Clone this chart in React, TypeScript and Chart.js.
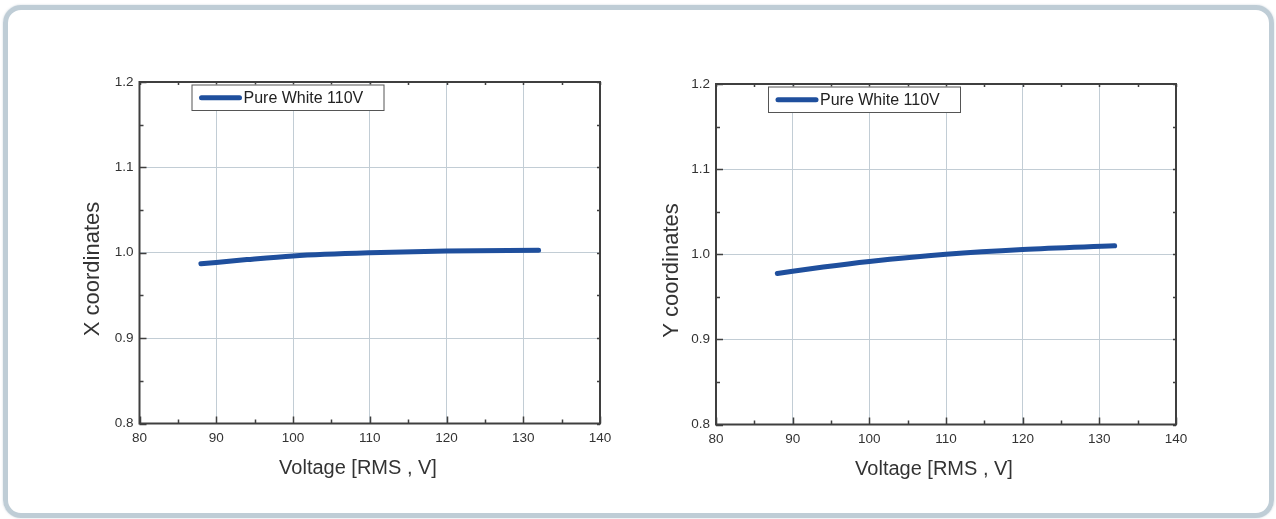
import React, { useEffect, useRef } from "react";
import { Chart, registerables } from "chart.js";

Chart.register(...registerables);

// ---- Data ----
const voltages = [88, 94, 100, 110, 120, 132];
const xCoordinateValues = [0.987, 0.992, 0.9963, 1.0, 1.002, 1.003];
const yCoordinateValues = [0.9775, 0.985, 0.9915, 1.0, 1.0057, 1.01];
const seriesLabel = "Pure White 110V";
const xAxisTitle = "Voltage [RMS , V]";
const leftYAxisTitle = "X coordinates";
const rightYAxisTitle = "Y coordinates";
const xMin = 80;
const xMax = 140;
const xMajorStep = 10;
const xMinorStep = 5;
const yMin = 0.8;
const yMax = 1.2;
const yMajorStep = 0.1;
const yMinorStep = 0.05;

const FONT = 'Arial, "Liberation Sans", Helvetica, sans-serif';
const LINE_COLOR = "#1f4f9d";
const GRID_COLOR = "#c2cdd5";
const FRAME_COLOR = "#3f3f3f";
const TEXT_COLOR = "#333333";

type Panel = {
  values: number[];
  yTitle: string;
  canvasLeft: number;
  areaLeft: number;
  areaRight: number;
  areaTop: number;
  areaBottom: number;
  yTitleX: number;
  yTitleY: number;
  xTitleX: number;
  xTitleY: number;
};

const CANVAS_W = 638;
const CANVAS_H = 519;

const panels: Panel[] = [
  {
    values: xCoordinateValues,
    yTitle: leftYAxisTitle,
    canvasLeft: 0,
    areaLeft: 139.5,
    areaRight: 600,
    areaTop: 82,
    areaBottom: 423.5,
    yTitleX: 93,
    yTitleY: 269,
    xTitleX: 358,
    xTitleY: 468,
  },
  {
    values: yCoordinateValues,
    yTitle: rightYAxisTitle,
    canvasLeft: 638,
    areaLeft: 716,
    areaRight: 1176,
    areaTop: 84,
    areaBottom: 424.5,
    yTitleX: 672,
    yTitleY: 270.5,
    xTitleX: 934,
    xTitleY: 469,
  },
];

function makeDecorPlugin(p: Panel) {
  return {
    id: "decor",
    afterDraw(chart: any) {
      const { ctx, chartArea: a, scales } = chart;
      const xs = scales.x;
      const ys = scales.y;
      ctx.save();
      ctx.strokeStyle = FRAME_COLOR;
      ctx.lineWidth = 1.5;
      ctx.lineCap = "butt";
      // x ticks (inward)
      const nX = Math.round((xMax - xMin) / xMinorStep);
      for (let i = 0; i <= nX; i++) {
        const v = xMin + i * xMinorStep;
        const px = Math.round(xs.getPixelForValue(v)) + 0.5;
        const major = i % Math.round(xMajorStep / xMinorStep) === 0;
        const len = major ? 7 : 4;
        ctx.beginPath();
        ctx.moveTo(px, a.bottom);
        ctx.lineTo(px, a.bottom - len);
        ctx.moveTo(px, a.top);
        ctx.lineTo(px, a.top + 3);
        ctx.stroke();
      }
      const nY = Math.round((yMax - yMin) / yMinorStep);
      for (let i = 0; i <= nY; i++) {
        const v = yMin + i * yMinorStep;
        const py = Math.round(ys.getPixelForValue(v)) + 0.5;
        const major = i % Math.round(yMajorStep / yMinorStep) === 0;
        const len = major ? 7 : 4;
        ctx.beginPath();
        ctx.moveTo(a.left, py);
        ctx.lineTo(a.left + len, py);
        ctx.moveTo(a.right, py);
        ctx.lineTo(a.right - 3, py);
        ctx.stroke();
      }
      // frame
      ctx.lineWidth = 2;
      ctx.strokeRect(a.left, a.top, a.right - a.left, a.bottom - a.top);

      // legend box
      const bx = a.left + 52;
      const by = a.top + 2.5;
      const bw = 193;
      const bh = 26.5;
      ctx.fillStyle = "#ffffff";
      ctx.fillRect(bx, by, bw, bh);
      ctx.lineWidth = 1;
      ctx.strokeStyle = "#555555";
      ctx.strokeRect(bx + 0.5, by + 0.5, bw - 1, bh - 1);
      const ly = by + bh / 2;
      ctx.strokeStyle = LINE_COLOR;
      ctx.lineWidth = 5;
      ctx.lineCap = "round";
      ctx.beginPath();
      ctx.moveTo(bx + 10, ly);
      ctx.lineTo(bx + 48, ly);
      ctx.stroke();
      ctx.fillStyle = "#222222";
      ctx.font = `16px ${FONT}`;
      ctx.textAlign = "left";
      ctx.textBaseline = "middle";
      ctx.fillText(seriesLabel, bx + 52, ly + 1);

      // axis titles
      const off = p.canvasLeft;
      ctx.fillStyle = TEXT_COLOR;
      ctx.font = `20px ${FONT}`;
      ctx.textAlign = "center";
      ctx.textBaseline = "middle";
      ctx.fillText(xAxisTitle, p.xTitleX - off, p.xTitleY);
      ctx.save();
      ctx.translate(p.yTitleX - off, p.yTitleY);
      ctx.rotate(-Math.PI / 2);
      ctx.font = `22px ${FONT}`;
      ctx.fillText(p.yTitle, 0, 0);
      ctx.restore();
      ctx.restore();
    },
  };
}

function ChartPanel({ p }: { p: Panel }) {
  const ref = useRef<HTMLCanvasElement | null>(null);
  useEffect(() => {
    if (!ref.current) return;
    const yAxisWidth = p.areaLeft - p.canvasLeft;
    const rightPad = p.canvasLeft + CANVAS_W - p.areaRight;
    const xAxisHeight = CANVAS_H - p.areaBottom;
    const chart = new Chart(ref.current, {
      type: "line",
      data: {
        datasets: [
          {
            label: seriesLabel,
            data: voltages.map((v, i) => ({ x: v, y: p.values[i] })),
            borderColor: LINE_COLOR,
            borderWidth: 5,
            borderCapStyle: "round",
            borderJoinStyle: "round",
            pointRadius: 0,
            cubicInterpolationMode: "monotone",
            fill: false,
          },
        ],
      },
      options: {
        animation: false,
        responsive: false,
        maintainAspectRatio: false,
        layout: { padding: { left: 0, right: rightPad, top: p.areaTop, bottom: 0 } },
        plugins: { legend: { display: false }, tooltip: { enabled: false }, title: { display: false } },
        scales: {
          x: {
            type: "linear",
            min: xMin,
            max: xMax,
            ticks: {
              stepSize: xMajorStep,
              padding: 7,
              color: TEXT_COLOR,
              font: { family: FONT, size: 13.5 },
              maxRotation: 0,
              autoSkip: false,
            },
            grid: { color: GRID_COLOR, lineWidth: 1, drawTicks: false },
            border: { display: false },
            afterFit: (s: any) => {
              s.height = xAxisHeight;
            },
          },
          y: {
            type: "linear",
            min: yMin,
            max: yMax,
            ticks: {
              stepSize: yMajorStep,
              padding: 6,
              color: TEXT_COLOR,
              font: { family: FONT, size: 13.5 },
              callback: (v: any) => Number(v).toFixed(1),
            },
            grid: { color: GRID_COLOR, lineWidth: 1, drawTicks: false },
            border: { display: false },
            afterFit: (s: any) => {
              s.width = yAxisWidth;
            },
          },
        },
      } as any,
      plugins: [makeDecorPlugin(p)],
    });
    return () => chart.destroy();
  }, [p]);
  return (
    <canvas
      ref={ref}
      width={CANVAS_W}
      height={CANVAS_H}
      style={{ position: "absolute", left: p.canvasLeft, top: 0, width: CANVAS_W, height: CANVAS_H }}
    />
  );
}

export default function App() {
  return (
    <div style={{ position: "fixed", left: 0, top: 0, width: 1276, height: 519, background: "#ffffff", overflow: "hidden" }}>
      <div
        style={{
          position: "absolute",
          left: 3,
          top: 5,
          width: 1271,
          height: 513,
          boxSizing: "border-box",
          border: "5px solid #bfcdd6",
          borderRadius: 18,
          boxShadow: "0 0 2px rgba(150,170,185,0.5)",
        }}
      />
      {panels.map((p, i) => (
        <ChartPanel key={i} p={p} />
      ))}
    </div>
  );
}
